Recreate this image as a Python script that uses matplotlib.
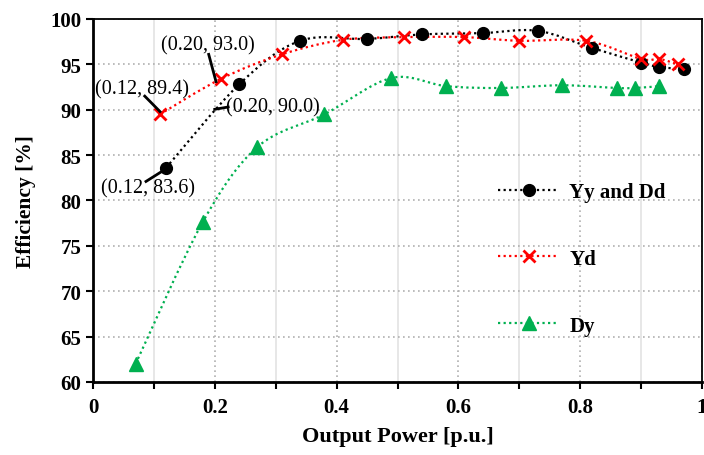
import numpy as np
import matplotlib
matplotlib.use("Agg")
import matplotlib.pyplot as plt
from matplotlib.path import Path
from matplotlib.patches import PathPatch
from matplotlib.lines import Line2D
from matplotlib.ticker import MultipleLocator, FixedLocator

plt.rcParams['font.family'] = ['Liberation Serif', 'DejaVu Serif']

# Data
yy_x = [0.12, 0.24, 0.34, 0.45, 0.54, 0.64, 0.73, 0.82, 0.90, 0.93, 0.97]
yy_y = [83.6, 92.8, 97.6, 97.8, 98.3, 98.45, 98.7, 96.8, 95.2, 94.7, 94.5]

yd_x = [0.11, 0.21, 0.31, 0.41, 0.51, 0.61, 0.70, 0.81, 0.90, 0.93, 0.96]
yd_y = [89.5, 93.4, 96.1, 97.7, 98.0, 98.0, 97.6, 97.6, 95.6, 95.6, 95.0]

dy_x = [0.07, 0.18, 0.27, 0.38, 0.49, 0.58, 0.67, 0.77, 0.86, 0.89, 0.93]
dy_y = [62.0, 77.6, 85.9, 89.5, 93.5, 92.6, 92.4, 92.7, 92.4, 92.4, 92.6]

series_names = ["Yy and Dd", "Yd", "Dy"]
annotations = ["(0.12, 89.4)", "(0.20, 93.0)", "(0.20, 90.0)", "(0.12, 83.6)"]

fig = plt.figure(figsize=(7.04, 4.56), dpi=100)
ax = fig.add_axes([93/704, 1-383/456, (702-93)/704, (383-20)/456])


def smooth_path(xs, ys):
    p = np.column_stack([xs, ys]).astype(float)
    n = len(p)
    verts = [p[0]]
    codes = [Path.MOVETO]
    for i in range(n-1):
        p0 = p[i-1] if i > 0 else p[i]
        p1 = p[i]
        p2 = p[i+1]
        p3 = p[i+2] if i+2 < n else p[i+1]
        c1 = p1 + (p2 - p0) / 6.0
        c2 = p2 - (p3 - p1) / 6.0
        verts += [c1, c2, p2]
        codes += [Path.CURVE4]*3
    return Path(verts, codes)


styles = [
    dict(color='black', marker='o', ms=8.5, mew=1, mfc='black'),
    dict(color='#ff0000', marker='x', ms=9, mew=2, mfc='none'),
    dict(color='#00b050', marker='^', ms=9.5, mew=1, mfc='#00b050'),
]
data = [(yy_x, yy_y), (yd_x, yd_y), (dy_x, dy_y)]

handles = []
for (xs, ys), st, name in zip(data, styles, series_names):
    patch = PathPatch(smooth_path(xs, ys), fill=False, edgecolor=st['color'],
                      lw=1.6, linestyle=(0, (1, 1.5)), zorder=3)
    ax.add_patch(patch)
    ax.plot(xs, ys, linestyle='none', marker=st['marker'], ms=st['ms'],
            mew=st['mew'], color=st['color'], mfc=st['mfc'], zorder=4)
    handles.append(Line2D([], [], color=st['color'], lw=1.6, linestyle=(0, (1, 1.5)),
                          marker=st['marker'], ms=st['ms'], mew=st['mew'], mfc=st['mfc']))

ax.set_xlim(0, 1)
ax.set_ylim(60, 100)

ax.xaxis.set_major_locator(FixedLocator([0, 0.2, 0.4, 0.6, 0.8, 1.0]))
ax.xaxis.set_minor_locator(FixedLocator([0.1, 0.3, 0.5, 0.7, 0.9]))
ax.set_xticklabels(["0", "0.2", "0.4", "0.6", "0.8", "1"])
ax.yaxis.set_major_locator(MultipleLocator(5))

ax.grid(which='major', axis='both', color='#b0b0b0', linestyle=(0, (1, 2)), lw=1.2, zorder=0)
ax.grid(which='minor', axis='x', color='#e3e3e3', linestyle='-', lw=1.2, zorder=0)
ax.set_axisbelow(True)

ax.tick_params(which='both', direction='out', length=5, width=1.5, color='black')
ax.tick_params(axis='x', pad=6)
ax.tick_params(axis='y', which='minor', left=False)
for lab in ax.get_xticklabels() + ax.get_yticklabels():
    lab.set_fontweight('bold')
    lab.set_fontsize(15)

for s in ['left', 'bottom']:
    ax.spines[s].set_linewidth(2)
for s in ['top', 'right']:
    ax.spines[s].set_linewidth(1.3)

ax.set_xlabel("Output Power [p.u.]", fontsize=16, fontweight='bold', labelpad=6)
ax.set_ylabel("Efficiency [%]", fontsize=15.5, fontweight='bold', labelpad=10)

# Annotations (text centre, leader start, leader end) in data coords
ann_text_pos = [(0.080, 92.3), (0.189, 97.2), (0.295, 90.3), (0.090, 81.4)]
ann_line = [((0.085, 91.5), (0.110, 89.8)),
            ((0.190, 96.1), (0.202, 93.1)),
            ((0.200, 90.05), (0.222, 90.3)),
            ((0.087, 82.1), (0.113, 83.2))]
for t, pos, (a, b) in zip(annotations, ann_text_pos, ann_line):
    ax.text(pos[0], pos[1], t, fontsize=14.5, ha='center', va='center', zorder=6)
    ax.plot([a[0], b[0]], [a[1], b[1]], color='black', lw=2, zorder=5)

leg = ax.legend(handles, series_names, loc='upper left', bbox_to_anchor=(0.635, 0.603),
                frameon=False, prop={'weight': 'bold', 'size': 15}, handlelength=2.9,
                labelspacing=2.25, handletextpad=0.5)

fig.savefig("out.png", dpi=100)
